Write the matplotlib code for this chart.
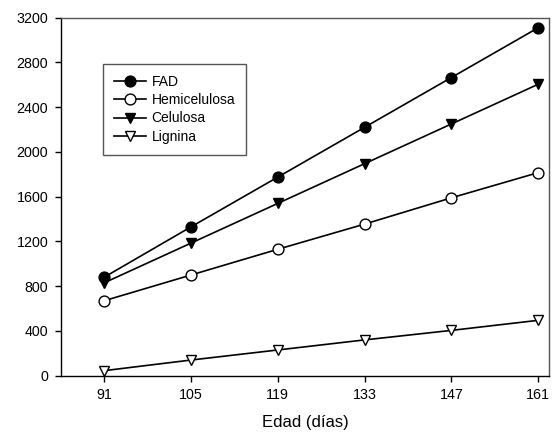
import matplotlib
matplotlib.use('Agg')
import matplotlib.pyplot as plt

plt.rcParams['font.family'] = ['Liberation Sans', 'DejaVu Sans']

# ---- datos ----
edad = [91, 105, 119, 133, 147, 161]
fad = [880, 1330, 1775, 2220, 2665, 3110]
hemicelulosa = [670, 900, 1130, 1355, 1590, 1815]
celulosa = [830, 1185, 1540, 1895, 2250, 2605]
lignina = [45, 140, 230, 320, 405, 495]

y_ticks = [0, 400, 800, 1200, 1600, 2000, 2400, 2800, 3200]

fig = plt.figure(figsize=(5.58, 4.34), dpi=100, facecolor='white')
ax = fig.add_axes([0.1088, 0.1343, 0.8756, 0.8249])

estilo = dict(color='black', linewidth=1.2, markersize=7.8,
              markeredgecolor='black', markeredgewidth=1.0)

ax.plot(edad, fad, marker='o', markerfacecolor='black', label='FAD', **estilo)
ax.plot(edad, hemicelulosa, marker='o', markerfacecolor='white', label='Hemicelulosa', **estilo)
ax.plot(edad, celulosa, marker='v', markerfacecolor='black', label='Celulosa', **estilo)
ax.plot(edad, lignina, marker='v', markerfacecolor='white', label='Lignina', **estilo)

ax.set_xlim(84.0, 162.8)
ax.set_ylim(0, 3200)
ax.set_xticks(edad)
ax.set_yticks(y_ticks)
ax.tick_params(direction='out', length=4, width=1, labelsize=10.3, colors='black', pad=5)
for s in ax.spines.values():
    s.set_color('#555555')
    s.set_linewidth(1.0)
ax.spines['left'].set_color('black')
ax.spines['bottom'].set_color('black')

ax.set_xlabel('Edad (días)', fontsize=12, labelpad=9)

leg = ax.legend(loc='upper left', bbox_to_anchor=(0.0866, 0.8707), borderaxespad=0,
                fancybox=False, edgecolor='#555555', fontsize=10, handlelength=2.3,
                handletextpad=0.4, labelspacing=0.3, borderpad=0.8, framealpha=1)
leg.get_frame().set_linewidth(1.0)

fig.savefig('out.png', dpi=100, facecolor='white')
